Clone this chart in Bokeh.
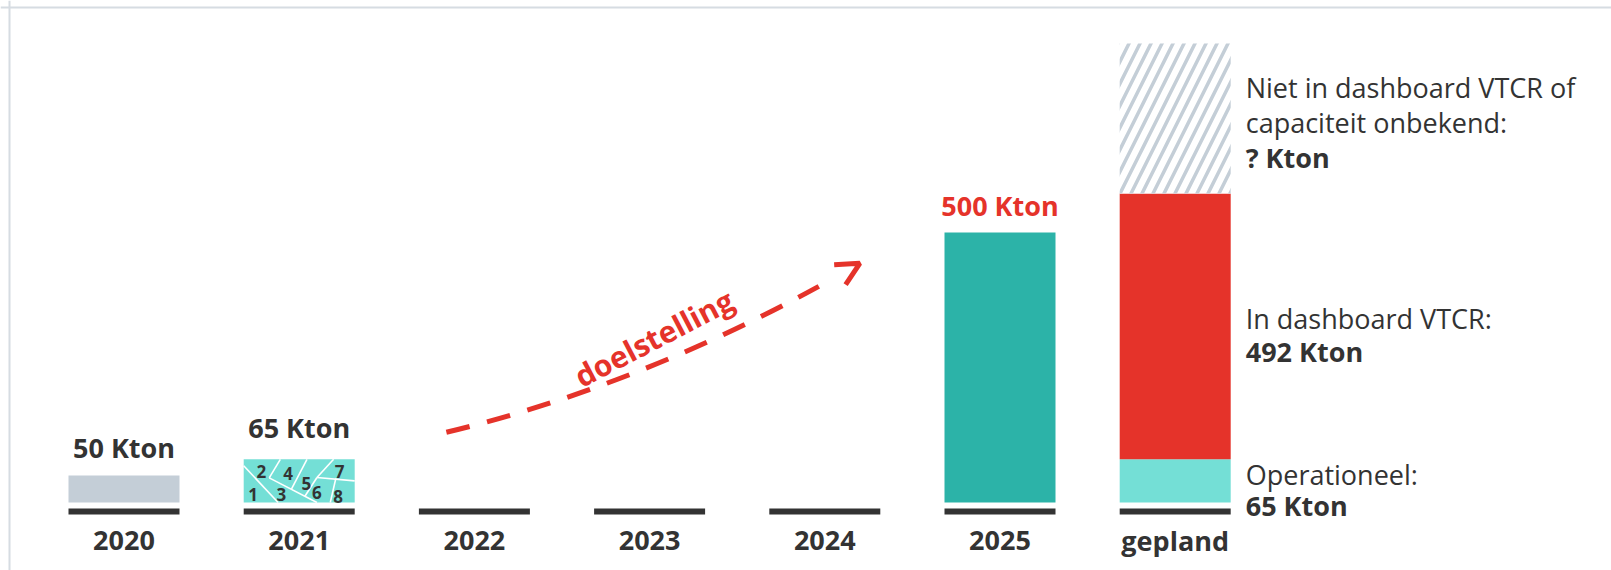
from bokeh.plotting import figure
from bokeh.models import Range1d, Span, Arrow, OpenHead
from bokeh.core.properties import value
from bokeh.embed import file_html
from bokeh.resources import INLINE

# ---------------- data ----------------
categories = ["2020", "2021", "2022", "2023", "2024", "2025", "gepland"]
# drawn bar heights (Kton scale) for 2020..2025
year_values = [50, 80, 0, 0, 0, 500]
year_labels = ["50 Kton", "65 Kton", "", "", "", "500 Kton"]
year_colors = ["#c4ced7", "#74dfd6", "#74dfd6", "#74dfd6", "#74dfd6", "#2cb3a8"]
year_label_colors = ["#333333", "#333333", "#333333", "#333333", "#333333", "#e5332a"]
year_label_offsets = [-28, -32, 0, 0, 0, -27]

# stacked "gepland" bar: bottom -> top
planned_segments = ["Operationeel", "In dashboard VTCR", "Niet in dashboard VTCR of capaciteit onbekend"]
planned_values = [80, 492, 278]
planned_colors = ["#74dfd6", "#e5332a", "#ffffff"]
planned_lines = [
    ["Operationeel:", "65 Kton"],
    ["In dashboard VTCR:", "492 Kton"],
    ["Niet in dashboard VTCR of", "capaciteit onbekend:", "? Kton"],
]
planned_line_bold = [[False, True], [False, True], [False, False, True]]
planned_line_offsets = [[-6, 25], [-8, 25], [-31, 4, 39]]

# 2021 bar: numbered parts (fractions of the bar: x from left, y from bottom)
part_numbers = ["1", "2", "3", "4", "5", "6", "7", "8"]
part_fx = [0.085, 0.16, 0.34, 0.40, 0.565, 0.66, 0.865, 0.85]
part_fy = [0.19, 0.72, 0.19, 0.68, 0.45, 0.23, 0.72, 0.15]
cut_fx0 = [0.00, 0.33, 0.23, 0.57, 0.81, 0.66, 0.66, 0.83]
cut_fy0 = [0.85, 1.00, 0.57, 1.00, 1.00, 0.58, 0.58, 0.56]
cut_fx1 = [0.31, 0.23, 0.66, 0.43, 0.66, 0.55, 1.00, 0.78]
cut_fy1 = [0.00, 0.57, 0.00, 0.31, 0.58, 0.14, 0.50, 0.00]

# target arrow (quadratic curve, data units: category index, Kton)
arrow_p0 = (1.84, 130.0)
arrow_ctrl = (3.03, 223.0)
arrow_p2 = (4.20, 443.0)
arrow_text = "doelstelling"

# ---------------- layout / style ----------------
W, H = 1611, 570
X0_PX, PX_PER_CAT = 123.5, 175.2
Y0_PX, PX_PER_KTON = 502.0, 0.54
BAR_W = 111.0 / PX_PER_CAT
FONT = value("Open Sans")
DARK = "#333333"
RED = "#e5332a"
HATCH = "#c4ced7"
FS = "27px"


def dx(px):
    return (px - X0_PX) / PX_PER_CAT


def dy(py):
    return (Y0_PX - py) / PX_PER_KTON


def kpx(n):
    return n / PX_PER_KTON


p = figure(width=W, height=H, x_range=Range1d(dx(0), dx(W)), y_range=Range1d(dy(H), dy(0)),
           output_backend="svg", toolbar_location=None, x_axis_location=None,
           y_axis_location=None, min_border=0, title=None)
p.xgrid.grid_line_color = None
p.ygrid.grid_line_color = None
p.outline_line_color = None
p.background_fill_color = "white"
p.border_fill_color = "white"

# card border (top and left)
p.add_layout(Span(location=dy(7), dimension="width", line_color="#d6dce2", line_width=2))
p.add_layout(Span(location=dx(9), dimension="height", line_color="#d6dce2", line_width=2))

xs = list(range(len(categories)))
yx = xs[:len(year_values)]

# baselines under every category
p.vbar(x=xs, width=BAR_W, top=-kpx(6), bottom=-kpx(12), fill_color=DARK, line_color=None)

# yearly bars
p.vbar(x=yx, width=BAR_W, top=year_values, bottom=0, fill_color=year_colors, line_color=None)

# value labels above bars
for x, v, t, c, o in zip(yx, year_values, year_labels, year_label_colors, year_label_offsets):
    if t:
        p.text(x=[x], y=[v], text=[t], text_color=c, text_align="center",
               text_baseline="alphabetic", y_offset=o, text_font=FONT,
               text_font_style="bold", text_font_size=FS)

# category labels
p.text(x=xs, y=[dy(540)] * len(xs), text=categories, text_color=DARK, text_align="center",
       text_baseline="alphabetic", text_font=FONT, text_font_style="bold", text_font_size=FS)

# 2021 bar parts
bx = yx[1] - BAR_W / 2
bh = year_values[1]
p.segment(x0=[bx + f * BAR_W for f in cut_fx0], y0=[f * bh for f in cut_fy0],
          x1=[bx + f * BAR_W for f in cut_fx1], y1=[f * bh for f in cut_fy1],
          line_color="white", line_width=1.6)
p.text(x=[bx + f * BAR_W for f in part_fx], y=[f * bh for f in part_fy], text=part_numbers,
       text_color=DARK, text_align="center", text_baseline="middle", text_font=FONT,
       text_font_style="bold", text_font_size="17px")

# stacked planned bar
gx = xs[-1]
bottoms, tops = [], []
acc = 0
for v in planned_values:
    bottoms.append(acc)
    acc += v
    tops.append(acc)
for i in range(len(planned_values)):
    if i == len(planned_values) - 1:
        p.vbar(x=[gx], width=BAR_W, top=[tops[i]], bottom=[bottoms[i]], fill_color="white",
               line_color=None, hatch_pattern="/", hatch_color=HATCH, hatch_scale=22,
               hatch_weight=3.5)
    else:
        p.vbar(x=[gx], width=BAR_W, top=[tops[i]], bottom=[bottoms[i]],
               fill_color=planned_colors[i], line_color=None)

# planned labels
tx = gx + BAR_W / 2 + dx(X0_PX + 15) - dx(X0_PX)
for i, lines in enumerate(planned_lines):
    mid = (bottoms[i] + tops[i]) / 2
    for line, bold, off in zip(lines, planned_line_bold[i], planned_line_offsets[i]):
        p.text(x=[tx], y=[mid], text=[line], y_offset=off, text_color=DARK, text_align="left",
               text_baseline="alphabetic", text_font=FONT,
               text_font_style="bold" if bold else "normal", text_font_size=FS)

# target arrow: dashed quadratic curve, cut before the head
t_cut = 0.9
(x0, y0), (cx, cy), (x2, y2) = arrow_p0, arrow_ctrl, arrow_p2


def bez(t):
    return ((1 - t) ** 2 * x0 + 2 * t * (1 - t) * cx + t ** 2 * x2,
            (1 - t) ** 2 * y0 + 2 * t * (1 - t) * cy + t ** 2 * y2)


ex, ey = bez(t_cut)
qcx, qcy = x0 + t_cut * (cx - x0), y0 + t_cut * (cy - y0)
p.quadratic(x0=[x0], y0=[y0], x1=[ex], y1=[ey], cx=[qcx], cy=[qcy], line_color=RED,
            line_width=5, line_dash="24 18")
hx, hy = bez(0.97)
p.add_layout(Arrow(x_start=hx, y_start=hy, x_end=x2, y_end=y2, line_alpha=0,
                   end=OpenHead(size=23, line_width=5, line_color=RED)))

mx, my = bez(0.5)
p.text(x=[mx], y=[my + kpx(27)], text=[arrow_text], angle=0.48, text_color=RED,
       text_align="center", text_baseline="middle", text_font=FONT, text_font_style="bold",
       text_font_size="30px")

open("out.html", "w").write(file_html(p, INLINE))
